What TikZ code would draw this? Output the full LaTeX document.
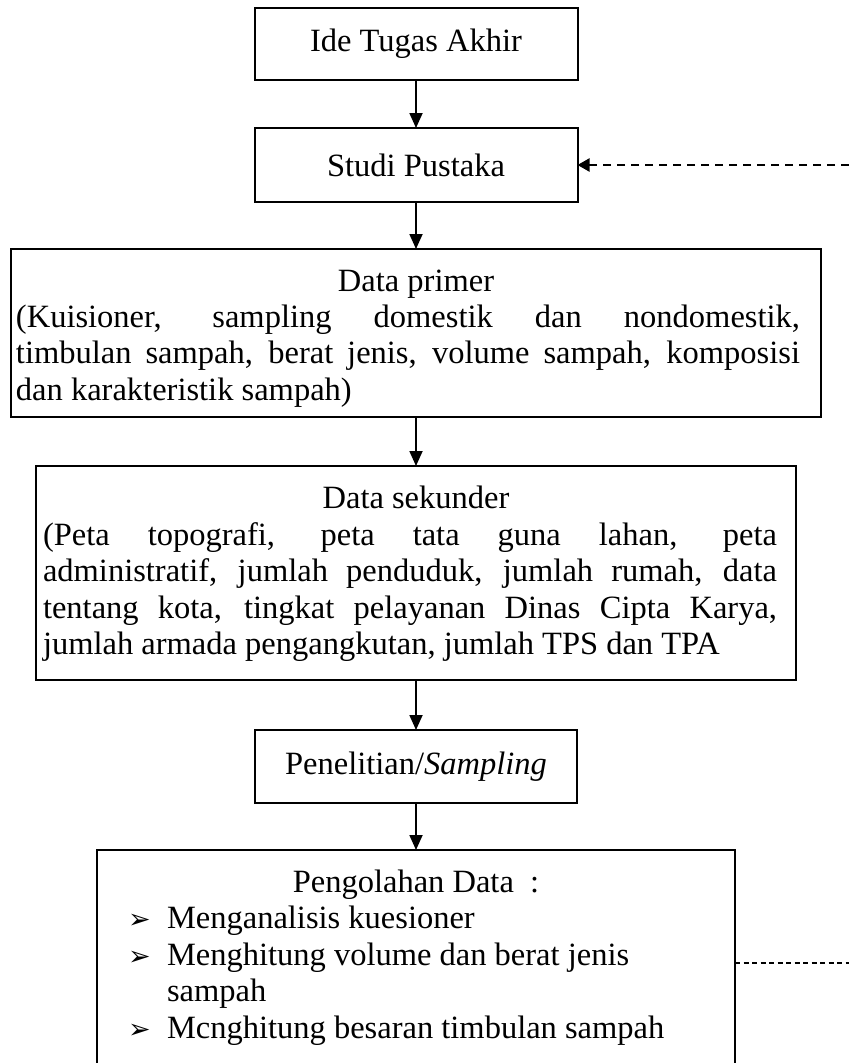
\documentclass[tikz,border=0pt]{standalone}
\usepackage{fontspec}
\setmainfont{Liberation Serif}
\newfontfamily\dejavu{DejaVu Sans}
\usetikzlibrary{arrows.meta}
\begin{document}
\begin{tikzpicture}[x=1pt,y=-1pt,
  box/.style={draw, line width=2pt, rectangle, inner sep=0pt, outer sep=0pt, anchor=north west},
  txt/.style={font=\fontsize{32.5}{36.5}\selectfont, inner sep=0pt, outer sep=0pt},
  body/.style={txt, anchor=base west, align=justify},
  bul/.style={font=\dejavu\bfseries\fontsize{27}{27}\selectfont, inner sep=0pt, anchor=base west},
  arr/.style={line width=1.8pt, -{Triangle[length=15pt,width=13pt]}},
  dasharr/.style={line width=2.2pt, dash pattern=on 8pt off 6pt, -{Triangle[length=12pt,width=13pt]}},
  dashln/.style={line width=1.1pt, dash pattern=on 5pt off 3.5pt}
]
\useasboundingbox (0,0) rectangle (849,1063);
\clip (0,0) rectangle (849,1063);

% boxes
\node[box, minimum width=323pt, minimum height=72pt] (b1) at (254.5,8) {};
\node[txt] at (b1.center) {Ide Tugas Akhir};
\node[box, minimum width=323pt, minimum height=74pt] (b2) at (254.5,128) {};
\node[txt] at (b2.center) {Studi Pustaka};
\node[box, minimum width=810pt, minimum height=168pt] (b3) at (11,249) {};
\node[box, minimum width=760pt, minimum height=214pt] (b4) at (36,466) {};
\node[box, minimum width=322pt, minimum height=73pt] (b5) at (255,730) {};
\node[txt] at (b5.center) {Penelitian/\textit{Sampling}};
\node[box, minimum width=638pt, minimum height=240pt] (b6) at (97,850) {};

% Data primer text
\node[txt, anchor=base] (t3) at (416,291) {Data primer};
\node[body, text width=784pt] (x3) at (16,327) {(Kuisioner, sampling domestik dan nondomestik,\linebreak timbulan sampah, berat jenis, volume sampah, komposisi\linebreak dan karakteristik sampah)};

% Data sekunder text
\node[txt, anchor=base] (t4) at (416,508) {Data sekunder};
\node[body, text width=734pt] (x4) at (43,545) {(Peta topografi, peta tata guna lahan, peta\linebreak administratif, jumlah penduduk, jumlah rumah, data\linebreak tentang kota, tingkat pelayanan Dinas Cipta Karya,\linebreak jumlah armada pengangkutan, jumlah TPS dan TPA};

% Pengolahan data text
\node[txt, anchor=base] (t6) at (416,892) {Pengolahan Data~~:};
\node[bul] (p1) at (128,928.5) {➢};
\node[txt, anchor=base west] (l1) at (167,928.5) {Menganalisis kuesioner};
\node[bul] (p2) at (128,965) {➢};
\node[txt, anchor=base west] (l2) at (167,965) {Menghitung volume dan berat jenis};
\node[txt, anchor=base west] (l3) at (167,1001.5) {sampah};
\node[bul] (p3) at (128,1038) {➢};
\node[txt, anchor=base west] (l4) at (167,1038) {Mcnghitung besaran timbulan sampah};

% connectors
\draw[arr] (b1.south) -- (b2.north);
\draw[arr] (b2.south) -- (b2.south |- b3.north);
\draw[arr] (b2.south |- b3.south) -- (b2.south |- b4.north);
\draw[arr] (b2.south |- b4.south) -- (b2.south |- b5.north);
\draw[arr] (b2.south |- b5.south) -- (b2.south |- b6.north);

\coordinate (r1) at (849,165);
\draw[dasharr] (r1) -- (b2.east);
\coordinate (r2) at (849,963);
\draw[dashln] (b6.east |- r2) -- (r2);
\end{tikzpicture}
\end{document}
